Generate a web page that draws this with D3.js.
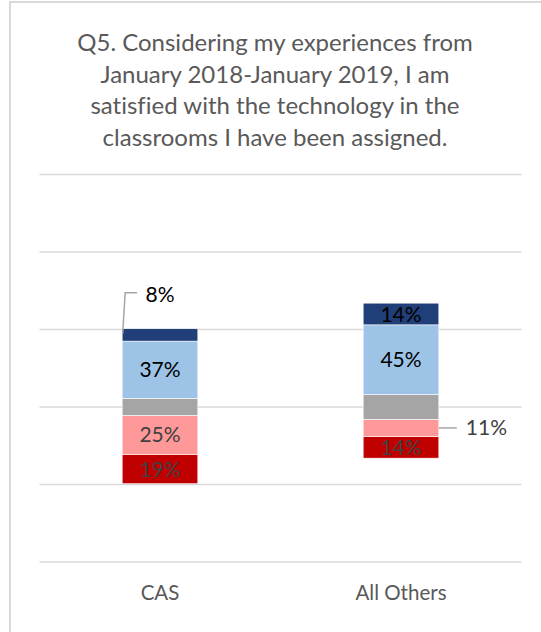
<!DOCTYPE html>
<html>
<head>
<meta charset="utf-8">
<script src="https://cdn.jsdelivr.net/npm/d3@7"></script>
<style>
  html, body { margin: 0; padding: 0; background: #fff; }
  svg { display: block; }
  text { font-variant-ligatures: none; }
</style>
</head>
<body>
<svg id="chart" width="541" height="632"></svg>
<script>
// Survey responses, share of respondents (%)
const categories = ["CAS", "All Others"];
const levels = ["Strongly Disagree", "Disagree", "Neutral", "Agree", "Strongly Agree"];
const strongDisagree = [19, 14];
const disagree = [25, 11];
const neutral = [11, 16];
const agree = [37, 45];
const strongAgree = [8, 14];
const gridTicks = [-100, -50, 0, 50, 100, 150];
const titleLines = [
  "Q5. Considering my experiences from",
  "January 2018-January 2019, I am",
  "satisfied with the technology in the",
  "classrooms I have been assigned."
];

const colors = ["#c00000", "#ff9999", "#a5a5a5", "#9dc3e6", "#203f78"];
const labelColors = ["#404040", "#404040", "#404040", "#000000", "#000000"];
const seriesValues = [strongDisagree, disagree, neutral, agree, strongAgree];

const svg = d3.select("#chart");
const font = "Lato, 'Open Sans', sans-serif";

// chart frame
svg.append("path")
  .attr("d", "M10,700 L10,2 L560,2")
  .attr("fill", "none")
  .attr("stroke", "#d9d9d9")
  .attr("stroke-width", 2);

// title
svg.append("g").selectAll("text")
  .data(titleLines)
  .join("text")
  .attr("x", 275)
  .attr("y", (d, i) => 51 + i * 31.6)
  .attr("text-anchor", "middle")
  .attr("font-family", font)
  .attr("font-size", 24)
  .attr("fill", "#595959")
  .text(d => d);

const plotLeft = 39.5, plotRight = 521.5;
const y = d3.scaleLinear().domain([-100, 150]).range([562, 174.5]);
const x = d3.scaleBand().domain(categories).range([plotLeft, plotRight])
  .paddingInner(0.686).paddingOuter(0.343);

// gridlines
svg.append("g").selectAll("line")
  .data(gridTicks)
  .join("line")
  .attr("x1", plotLeft).attr("x2", plotRight)
  .attr("y1", d => y(d)).attr("y2", d => y(d))
  .attr("stroke", "#d9d9d9")
  .attr("stroke-width", 1.5);

// diverging stack: the neutral segment is centred on zero
const segments = [];
categories.forEach((c, ci) => {
  const vals = seriesValues.map(s => s[ci]);
  let start = -(vals[0] + vals[1] + vals[2] / 2);
  vals.forEach((v, si) => {
    segments.push({ cat: c, ci, si, v, y0: start, y1: start + v });
    start += v;
  });
});

svg.append("g").selectAll("rect")
  .data(segments)
  .join("rect")
  .attr("x", d => x(d.cat))
  .attr("width", x.bandwidth())
  .attr("y", d => y(d.y1))
  .attr("height", d => y(d.y0) - y(d.y1))
  .attr("fill", d => colors[d.si])
  .attr("stroke", "#ffffff")
  .attr("stroke-width", 0.6);

const labelSize = 21;
// labels drawn inside their segments
const inside = segments.filter(d => d.si !== 2 && !(d.ci === 0 && d.si === 4) && !(d.ci === 1 && d.si === 1));
svg.append("g").selectAll("text")
  .data(inside)
  .join("text")
  .attr("x", d => x(d.cat) + x.bandwidth() / 2)
  .attr("y", d => y((d.y0 + d.y1) / 2) + 7.5)
  .attr("text-anchor", "middle")
  .attr("font-family", font)
  .attr("font-size", labelSize)
  .attr("fill", d => labelColors[d.si])
  .text(d => d.v + "%");

// callout for the thin top segment of CAS
const topSeg = segments.find(d => d.ci === 0 && d.si === 4);
const tx = x(topSeg.cat) + x.bandwidth() / 2, tyTop = y(topSeg.y1);
svg.append("polyline")
  .attr("points", [[x(topSeg.cat) + 0.5, tyTop + 5], [x(topSeg.cat) + 3, tyTop - 36], [x(topSeg.cat) + 15, tyTop - 36]].join(" "))
  .attr("fill", "none").attr("stroke", "#a6a6a6").attr("stroke-width", 1.5);
svg.append("text")
  .attr("x", tx).attr("y", tyTop - 26.5)
  .attr("text-anchor", "middle")
  .attr("font-family", font).attr("font-size", labelSize)
  .attr("fill", "#000000")
  .text(topSeg.v + "%");

// callout for the thin disagree segment of All Others
const disSeg = segments.find(d => d.ci === 1 && d.si === 1);
const rx = x(disSeg.cat) + x.bandwidth(), ry = y((disSeg.y0 + disSeg.y1) / 2);
svg.append("line")
  .attr("x1", rx).attr("x2", rx + 18).attr("y1", ry).attr("y2", ry)
  .attr("stroke", "#a6a6a6").attr("stroke-width", 1.5);
svg.append("text")
  .attr("x", rx + 27).attr("y", ry + 7.5)
  .attr("font-family", font).attr("font-size", labelSize)
  .attr("fill", "#404040")
  .text(disSeg.v + "%");

// category labels
svg.append("g").selectAll("text")
  .data(categories)
  .join("text")
  .attr("x", d => x(d) + x.bandwidth() / 2)
  .attr("y", 600)
  .attr("text-anchor", "middle")
  .attr("font-family", font)
  .attr("font-size", 20.5)
  .attr("fill", "#595959")
  .text(d => d);
</script>
</body>
</html>
